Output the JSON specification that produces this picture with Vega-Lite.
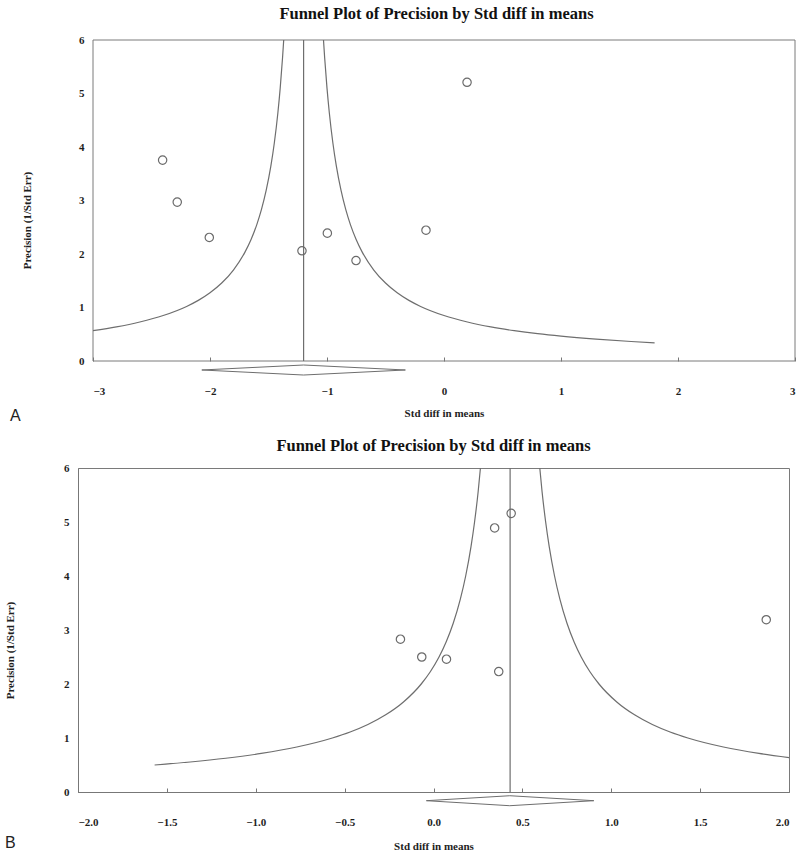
{
  "$schema": "https://vega.github.io/schema/vega-lite/v6.json",
  "padding": {"left": 3, "top": 5, "right": 5, "bottom": 2},
  "background": "white",
  "spacing": 12,
  "config": {
    "view": {"stroke": "#7a7a7a", "strokeWidth": 1},
    "axis": {"grid": false, "labelFont": "Liberation Serif", "labelFontWeight": "bold", "labelFontSize": 11, "labelColor": "#1e1e1e", "titleFont": "Liberation Serif", "titleFontWeight": "bold", "titleFontSize": 11, "titleColor": "#1e1e1e", "domainColor": "#777777", "tickColor": "#777777"},
    "title": {"font": "Liberation Serif", "fontSize": 16.5, "fontWeight": "bold", "color": "#111111", "anchor": "middle"}
  },
  "datasets": {
    "a_frame": [{"x": -3, "x2": 3, "y": 0, "y2": 6}],
    "a_pts": [
      {"x": -2.405, "y": 3.755}, {"x": -2.28, "y": 2.97}, {"x": -2.006, "y": 2.31}, {"x": -1.214, "y": 2.06},
      {"x": -0.997, "y": 2.39}, {"x": -0.752, "y": 1.877}, {"x": -0.154, "y": 2.445}, {"x": 0.197, "y": 5.21}
    ],
    "a_curve": [
      {"b": "L", "x": -1.37, "y": 6.0}, {"b": "L", "x": -1.38, "y": 5.667}, {"b": "L", "x": -1.4, "y": 5.1}, {"b": "L", "x": -1.42, "y": 4.636},
      {"b": "L", "x": -1.45, "y": 4.08}, {"b": "L", "x": -1.48, "y": 3.643}, {"b": "L", "x": -1.52, "y": 3.1875}, {"b": "L", "x": -1.56, "y": 2.833},
      {"b": "L", "x": -1.6, "y": 2.55}, {"b": "L", "x": -1.65, "y": 2.267}, {"b": "L", "x": -1.7, "y": 2.04}, {"b": "L", "x": -1.8, "y": 1.7},
      {"b": "L", "x": -1.9, "y": 1.457}, {"b": "L", "x": -2.0, "y": 1.275}, {"b": "L", "x": -2.1, "y": 1.133}, {"b": "L", "x": -2.2, "y": 1.02},
      {"b": "L", "x": -2.4, "y": 0.85}, {"b": "L", "x": -2.6, "y": 0.729}, {"b": "L", "x": -2.8, "y": 0.6375}, {"b": "L", "x": -3.0, "y": 0.567},
      {"b": "R", "x": -1.03, "y": 6.0}, {"b": "R", "x": -1.02, "y": 5.667}, {"b": "R", "x": -1.0, "y": 5.1}, {"b": "R", "x": -0.98, "y": 4.636},
      {"b": "R", "x": -0.95, "y": 4.08}, {"b": "R", "x": -0.92, "y": 3.643}, {"b": "R", "x": -0.88, "y": 3.1875}, {"b": "R", "x": -0.84, "y": 2.833},
      {"b": "R", "x": -0.8, "y": 2.55}, {"b": "R", "x": -0.75, "y": 2.267}, {"b": "R", "x": -0.7, "y": 2.04}, {"b": "R", "x": -0.6, "y": 1.7},
      {"b": "R", "x": -0.5, "y": 1.457}, {"b": "R", "x": -0.4, "y": 1.275}, {"b": "R", "x": -0.3, "y": 1.133}, {"b": "R", "x": -0.2, "y": 1.02},
      {"b": "R", "x": 0.0, "y": 0.85}, {"b": "R", "x": 0.2, "y": 0.729}, {"b": "R", "x": 0.4, "y": 0.6375}, {"b": "R", "x": 0.6, "y": 0.567},
      {"b": "R", "x": 0.8, "y": 0.51}, {"b": "R", "x": 1.0, "y": 0.4636}, {"b": "R", "x": 1.3, "y": 0.408}, {"b": "R", "x": 1.6, "y": 0.364},
      {"b": "R", "x": 1.8, "y": 0.34}
    ],
    "a_diamond": [
      {"o": 1, "x": -2.07, "y": -0.168}, {"o": 2, "x": -1.2, "y": -0.075}, {"o": 3, "x": -0.33, "y": -0.168},
      {"o": 4, "x": -1.2, "y": -0.262}, {"o": 5, "x": -2.07, "y": -0.168}
    ],
    "a_mean": [{"x": -1.2, "y": 0, "y2": 6}],
    "a_lab": [{"x": -3.664, "y": -1.03, "t": "A"}],
    "b_pts": [
      {"x": -0.186, "y": 2.83}, {"x": -0.066, "y": 2.5}, {"x": 0.073, "y": 2.46}, {"x": 0.367, "y": 2.23},
      {"x": 0.344, "y": 4.89}, {"x": 0.437, "y": 5.16}, {"x": 1.872, "y": 3.19}
    ],
    "b_curve": [
      {"b": "L", "x": 0.264, "y": 6.0}, {"b": "L", "x": 0.251, "y": 5.556}, {"b": "L", "x": 0.231, "y": 5.0}, {"b": "L", "x": 0.211, "y": 4.545},
      {"b": "L", "x": 0.181, "y": 4.0}, {"b": "L", "x": 0.151, "y": 3.571}, {"b": "L", "x": 0.111, "y": 3.125}, {"b": "L", "x": 0.071, "y": 2.778},
      {"b": "L", "x": 0.031, "y": 2.5}, {"b": "L", "x": -0.019, "y": 2.222}, {"b": "L", "x": -0.069, "y": 2.0}, {"b": "L", "x": -0.169, "y": 1.667},
      {"b": "L", "x": -0.269, "y": 1.429}, {"b": "L", "x": -0.369, "y": 1.25}, {"b": "L", "x": -0.469, "y": 1.111}, {"b": "L", "x": -0.569, "y": 1.0},
      {"b": "L", "x": -0.769, "y": 0.833}, {"b": "L", "x": -0.969, "y": 0.714}, {"b": "L", "x": -1.169, "y": 0.625}, {"b": "L", "x": -1.369, "y": 0.556},
      {"b": "L", "x": -1.569, "y": 0.5},
      {"b": "R", "x": 0.598, "y": 6.0}, {"b": "R", "x": 0.611, "y": 5.556}, {"b": "R", "x": 0.631, "y": 5.0}, {"b": "R", "x": 0.651, "y": 4.545},
      {"b": "R", "x": 0.681, "y": 4.0}, {"b": "R", "x": 0.711, "y": 3.571}, {"b": "R", "x": 0.751, "y": 3.125}, {"b": "R", "x": 0.791, "y": 2.778},
      {"b": "R", "x": 0.831, "y": 2.5}, {"b": "R", "x": 0.881, "y": 2.222}, {"b": "R", "x": 0.931, "y": 2.0}, {"b": "R", "x": 1.031, "y": 1.667},
      {"b": "R", "x": 1.131, "y": 1.429}, {"b": "R", "x": 1.231, "y": 1.25}, {"b": "R", "x": 1.331, "y": 1.111}, {"b": "R", "x": 1.431, "y": 1.0},
      {"b": "R", "x": 1.631, "y": 0.833}, {"b": "R", "x": 1.831, "y": 0.714}, {"b": "R", "x": 2.0, "y": 0.637}
    ],
    "b_diamond": [
      {"o": 1, "x": -0.04, "y": -0.161}, {"o": 2, "x": 0.429, "y": -0.069}, {"o": 3, "x": 0.902, "y": -0.161},
      {"o": 4, "x": 0.429, "y": -0.254}, {"o": 5, "x": -0.04, "y": -0.161}
    ],
    "b_mean": [{"x": 0.431, "y": 0, "y2": 6}],
    "b_lab": [{"x": -2.381, "y": -0.94, "t": "B"}]
  },
  "vconcat": [
    {
      "width": 717,
      "height": 321,
      "view": {"stroke": null},
      "title": {"text": "Funnel Plot of Precision by Std diff in means", "offset": 12},
      "layer": [
        {
          "data": {"name": "a_frame"},
          "mark": {"type": "rect", "fill": null, "stroke": "#7a7a7a", "strokeWidth": 1, "clip": false},
          "encoding": {
            "x": {"field": "x", "type": "quantitative", "scale": {"domain": [-3, 3], "range": [15, 717], "nice": false, "zero": false},
                  "axis": {"title": "Std diff in means", "values": [-3, -2, -1, 0, 1, 2, 3], "format": "d", "tickSize": -4, "labelPadding": 28, "titlePadding": 11, "domain": false}},
            "x2": {"field": "x2"},
            "y": {"field": "y", "type": "quantitative", "scale": {"domain": [0, 6], "nice": false, "zero": false},
                  "axis": {"title": "Precision (1/Std Err)", "values": [0, 1, 2, 3, 4, 5, 6], "format": "d", "ticks": false, "domain": false, "offset": -15, "labelPadding": 9, "titleX": -66, "titleY": 180, "titleBaseline": "middle", "titleAngle": -90}},
            "y2": {"field": "y2"}
          }
        },
        {
          "data": {"name": "a_curve"},
          "mark": {"type": "line", "interpolate": "monotone", "color": "#6e6e6e", "strokeWidth": 1.2, "clip": false},
          "encoding": {
            "x": {"field": "x", "type": "quantitative"},
            "y": {"field": "y", "type": "quantitative"},
            "detail": {"field": "b"}
          }
        },
        {
          "data": {"name": "a_mean"},
          "mark": {"type": "rule", "color": "#6e6e6e", "strokeWidth": 1.2},
          "encoding": {"x": {"field": "x", "type": "quantitative"}, "y": {"field": "y", "type": "quantitative"}, "y2": {"field": "y2"}}
        },
        {
          "data": {"name": "a_diamond"},
          "mark": {"type": "line", "color": "#6e6e6e", "strokeWidth": 1, "clip": false},
          "encoding": {"x": {"field": "x", "type": "quantitative"}, "y": {"field": "y", "type": "quantitative"}, "order": {"field": "o"}}
        },
        {
          "data": {"name": "a_pts"},
          "mark": {"type": "point", "shape": "circle", "filled": false, "color": "#6a6a6a", "strokeWidth": 1.2, "size": 70, "opacity": 1},
          "encoding": {"x": {"field": "x", "type": "quantitative"}, "y": {"field": "y", "type": "quantitative"}}
        },
        {
          "data": {"name": "a_lab"},
          "mark": {"type": "text", "font": "Liberation Sans", "fontSize": 16, "color": "#222222", "clip": false},
          "encoding": {"x": {"field": "x", "type": "quantitative"}, "y": {"field": "y", "type": "quantitative"}, "text": {"field": "t"}}
        }
      ]
    },
    {
      "width": 711,
      "height": 324,
      "title": {"text": "Funnel Plot of Precision by Std diff in means", "offset": 8},
      "layer": [
        {
          "data": {"name": "b_curve"},
          "mark": {"type": "line", "interpolate": "monotone", "color": "#6e6e6e", "strokeWidth": 1.2, "clip": false},
          "encoding": {
            "x": {"field": "x", "type": "quantitative", "scale": {"domain": [-2, 2], "nice": false, "zero": false},
                  "axis": {"title": "Std diff in means", "values": [-2, -1.5, -1, -0.5, 0, 0.5, 1, 1.5, 2], "format": ".1f", "tickSize": -4, "labelPadding": 28, "titlePadding": 13}},
            "y": {"field": "y", "type": "quantitative", "scale": {"domain": [0, 6], "nice": false, "zero": false},
                  "axis": {"title": "Precision (1/Std Err)", "values": [0, 1, 2, 3, 4, 5, 6], "format": "d", "ticks": false, "labelPadding": 9, "titleX": -68, "titleY": 182, "titleBaseline": "middle", "titleAngle": -90}},
            "detail": {"field": "b"}
          }
        },
        {
          "data": {"name": "b_mean"},
          "mark": {"type": "rule", "color": "#6e6e6e", "strokeWidth": 1.2},
          "encoding": {"x": {"field": "x", "type": "quantitative"}, "y": {"field": "y", "type": "quantitative"}, "y2": {"field": "y2"}}
        },
        {
          "data": {"name": "b_diamond"},
          "mark": {"type": "line", "color": "#6e6e6e", "strokeWidth": 1, "clip": false},
          "encoding": {"x": {"field": "x", "type": "quantitative"}, "y": {"field": "y", "type": "quantitative"}, "order": {"field": "o"}}
        },
        {
          "data": {"name": "b_pts"},
          "mark": {"type": "point", "shape": "circle", "filled": false, "color": "#6a6a6a", "strokeWidth": 1.2, "size": 70, "opacity": 1},
          "encoding": {"x": {"field": "x", "type": "quantitative"}, "y": {"field": "y", "type": "quantitative"}}
        },
        {
          "data": {"name": "b_lab"},
          "mark": {"type": "text", "font": "Liberation Sans", "fontSize": 16, "color": "#222222", "clip": false},
          "encoding": {"x": {"field": "x", "type": "quantitative"}, "y": {"field": "y", "type": "quantitative"}, "text": {"field": "t"}}
        }
      ]
    }
  ]
}
